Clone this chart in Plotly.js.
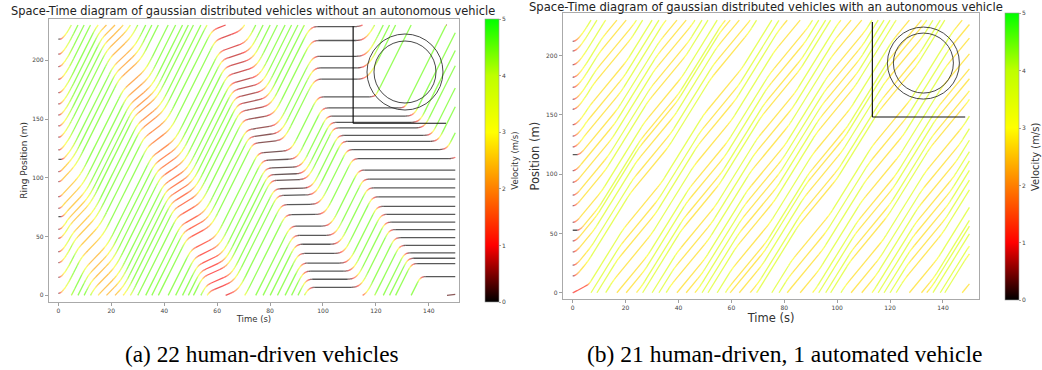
<!DOCTYPE html>
<html><head><meta charset="utf-8">
<script src="https://cdn.plot.ly/plotly-3.0.1.min.js"></script>
<style>html,body{margin:0;padding:0;background:#fff}#chart{width:1042px;height:370px}</style>
</head><body><div id="chart"></div>
<script>
// ---------------- values ----------------
const ringLength = 230;          // m
const timeEnd = 150;             // s
const xTicks = [0, 20, 40, 60, 80, 100, 120, 140];
const yTicks = [0, 50, 100, 150, 200];
const speedTicks = [0, 1, 2, 3, 4, 5];

// colour map (velocity m/s -> colour)
const cmapSpeed = [0, 1, 3, 4, 5];
const cmapRGB = [[0,0,0],[255,0,0],[255,255,0],[190,255,0],[0,255,0]];

// shape of a speed transition (fraction of the transition -> fraction of the dip)
const rampFraction = [0, 0.2, 0.4, 0.6, 0.8, 1];
const rampDepth    = [0, 0.1, 0.35, 0.65, 0.9, 1];

// ---- panel (a): 22 human-driven vehicles ----
const startPosA = [1.7, 15.3, 27.8, 37.1, 48.5, 56.1, 66.9, 74.0, 83.9, 96.7, 105.2, 115.7, 123.7, 134.5, 144.1, 153.4, 162.8, 172.4, 183.8, 194.6, 205.1, 217.9];
const launchDelayA = [0, 0, 0, 0, 0, 0, 0.8, 0, 0, 0, 0, 1.0, 0, 0, 0, 0, 0, 0, 0, 0, 0, 0.4];
const launchTimeA  = [0, 0.5, 1.5, 3, 4.5, 6];
const launchSpeedA = [0, 0.9, 2.4, 3.5, 4.2, 4.5];
const cruiseSpeedA = 4.5;
// slow bands: ring position (m), time the slow part starts / ends there (s), slowest speed (m/s)
const waveA0Pos = [0, 230],              waveA0Enter = [17, -23],           waveA0Leave = [22, -18],           waveA0Min = [2.3, 2.6];
const waveA1Pos = [0, 230],              waveA1Enter = [60, 17],            waveA1Leave = [65, 22],            waveA1Min = [0.9, 2.3];
const waveA2Pos = [0, 57.5, 115, 134, 230];
const waveA2Enter = [98, 90.5, 79.5, 74.6, 60];
const waveA2Leave = [112, 99.5, 87, 81, 65];
const waveA2Min   = [0, 0, 0.1, 0.3, 0.9];
const waveA3Pos = [0, 16, 57.5, 115, 140, 160, 172.5, 230];
const waveA3Enter = [146, 139, 127, 114, 107, 102, 100, 98];
const waveA3Leave = [180, 172, 165, 148, 136, 128, 113, 112];
const waveA3Min   = [0.3, 0, 0, 0, 0, 0, 0, 0];
const brakeA = 6, recoverA = 9;

// ---- panel (b): 21 human-driven, 1 automated vehicle ----
const startPosB = [0, 14.2, 23.2, 34.4, 43.7, 52.7, 59.4, 73.4, 82.4, 93.2, 103, 116.5, 123, 132.2, 141.8, 154.8, 163.2, 173.3, 181.8, 192.4, 204, 212.1];
const launchDelayB = [0, 0, 0, 0, 0, 1.5, 0, 0, 0, 0, 0, 1.5, 0, 0, 0, 0, 0, 0, 0, 0, 0, 0];
const launchTimeB  = [0, 0.5, 1.5, 3, 4.5, 6];
const launchSpeedB = [0, 0.7, 1.8, 2.8, 3.3, 3.6];
const avLaunchTime  = [0, 0.3, 5.5, 7];
const avLaunchSpeed = [0.5, 1.1, 1.3, 3.6];
const cruiseSpeedB = 4.6;
// mild speed bands drifting forward: time they pass 0 m, time taken to reach 230 m
const waveBStart = [-50, -28, -6, 16, 38, 60, 82, 104, 126, 148];
const waveBTravel = 20;
const waveBHold = 8, waveBMin = 2.7;
const brakeB = 5, recoverB = 5;

// ---------------- helpers ----------------
function lerpTable(xs, ys, x) {
  if (x <= xs[0]) return ys[0];
  for (let i = 1; i < xs.length; i++) {
    if (x <= xs[i]) { const f = (x - xs[i-1]) / (xs[i] - xs[i-1]); return ys[i-1] + f * (ys[i] - ys[i-1]); }
  }
  return ys[ys.length - 1];
}
function speedColor(v, alpha) {
  const c = [0,1,2].map(j => Math.round(lerpTable(cmapSpeed, cmapRGB.map(r => r[j]), v)));
  return alpha === undefined ? `rgb(${c[0]},${c[1]},${c[2]})` : `rgba(${c[0]},${c[1]},${c[2]},${alpha})`;
}
// a band: {pos, enter, leave, min}
function bandSpeed(b, cruise, brake, recover, t, y) {
  const te = lerpTable(b.pos, b.enter, y), tl = lerpTable(b.pos, b.leave, y), vmin = lerpTable(b.pos, b.min, y);
  const u = t - te, w = t - tl;
  let f = 0;
  if (u >= -brake && u < 0) f = lerpTable(rampFraction, rampDepth, (u + brake) / brake);
  else if (u >= 0 && w <= 0) f = 1;
  else if (w > 0 && w <= recover) f = 1 - lerpTable(rampFraction, rampDepth, w / recover);
  return cruise - f * (cruise - vmin);
}
function makeField(bands, cruise, brake, recover) {
  return (t, y) => bands.reduce((v, b) => Math.min(v, bandSpeed(b, cruise, brake, recover, t, y)), cruise);
}
function trajectory(field, y0, lt, lv, delay) {
  const speed = (tt, yy) => Math.max(0, Math.min(field(tt, ((yy % ringLength) + ringLength) % ringLength), lerpTable(lt, lv, tt - delay)));
  const dt = 0.05, every = 4;
  let t = 0, u = y0;
  const pts = [[0, u]];
  let n = 0;
  while (t < timeEnd - 1e-9) {
    const v1 = speed(t, u);
    const v2 = speed(t + dt / 2, u + v1 * dt / 2);
    u += v2 * dt; t += dt; n++;
    if (n % every === 0 || t >= timeEnd - 1e-9) pts.push([t, u]);
  }
  return pts;
}
function buildTraces(trajs, xa, ya, alpha, width) {
  const bins = {};
  trajs.forEach(pts => {
    let prev = null;
    const add = (bin, x0, y0, x1, y1) => {
      if (!bins[bin]) bins[bin] = { x: [], y: [] };
      const B = bins[bin];
      if (prev && prev.bin === bin && prev.x === x0 && prev.y === y0) { B.x.push(x1); B.y.push(y1); }
      else { if (B.x.length) { B.x.push(null); B.y.push(null); } B.x.push(x0, x1); B.y.push(y0, y1); }
      prev = { bin, x: x1, y: y1 };
    };
    for (let i = 1; i < pts.length; i++) {
      const [ta, ua] = pts[i-1], [tb, ub] = pts[i];
      const v = (ub - ua) / (tb - ta);
      const bin = Math.max(0, Math.min(50, Math.round(v * 10)));
      const la = Math.floor(ua / ringLength), lb = Math.floor(ub / ringLength);
      if (la === lb) add(bin, ta, ua - la * ringLength, tb, ub - lb * ringLength);
      else {
        const tc = ta + (lb * ringLength - ua) / (ub - ua) * (tb - ta);
        add(bin, ta, ua - la * ringLength, tc, ringLength);
        prev = null;
        add(bin, tc, 0, tb, ub - lb * ringLength);
      }
    }
  });
  return Object.keys(bins).map(k => ({
    type: 'scatter', mode: 'lines', x: bins[k].x, y: bins[k].y, xaxis: xa, yaxis: ya,
    line: { color: speedColor(k / 10, alpha), width: width }, hoverinfo: 'skip', showlegend: false
  }));
}

// ---------------- trajectories ----------------
const bandsA = [
  { pos: waveA0Pos, enter: waveA0Enter, leave: waveA0Leave, min: waveA0Min },
  { pos: waveA1Pos, enter: waveA1Enter, leave: waveA1Leave, min: waveA1Min },
  { pos: waveA2Pos, enter: waveA2Enter, leave: waveA2Leave, min: waveA2Min },
  { pos: waveA3Pos, enter: waveA3Enter, leave: waveA3Leave, min: waveA3Min }
];
const bandsB = waveBStart.map(s => ({ pos: [0, ringLength], enter: [s, s + waveBTravel], leave: [s + waveBHold, s + waveBTravel + waveBHold], min: [waveBMin, waveBMin] }));
const fieldA = makeField(bandsA, cruiseSpeedA, brakeA, recoverA);
const fieldB = makeField(bandsB, cruiseSpeedB, brakeB, recoverB);
const trajA = startPosA.map((p, i) => trajectory(fieldA, p, launchTimeA, launchSpeedA, launchDelayA[i]));
const trajB = startPosB.map((p, i) => i === 0 ? trajectory(fieldB, p, avLaunchTime, avLaunchSpeed, 0)
                                              : trajectory(fieldB, p, launchTimeB, launchSpeedB, launchDelayB[i]));

const W = 1042, H = 370;
const px = v => v / W, py = v => 1 - v / H;
const font = 'DejaVu Sans, Verdana, sans-serif';
const cscale = cmapSpeed.map((s, i) => [s / 5, speedColor(s)]);

function colorbarTrace(xa, ya, cb) {
  return { type: 'scatter', mode: 'markers', x: [-100], y: [-100], xaxis: xa, yaxis: ya, hoverinfo: 'skip', showlegend: false,
    marker: { size: 1, opacity: 0, color: [0], cmin: 0, cmax: 5, colorscale: cscale, showscale: true, colorbar: cb } };
}
const cbCommon = { xanchor: 'left', yanchor: 'top', lenmode: 'fraction', thicknessmode: 'pixels', xpad: 0, ypad: 0,
  outlinewidth: 0.6, outlinecolor: '#999', tickvals: speedTicks, ticks: 'outside', ticklen: 2, tickwidth: 0.6, tickcolor: '#666',
  tickfont: { family: font, size: 6, color: '#444' } };

const traces = [
  ...buildTraces(trajA, 'x', 'y', 0.65, 1.3),
  ...buildTraces(trajB, 'x2', 'y2', 0.65, 1.3),
  colorbarTrace('x', 'y', Object.assign({}, cbCommon, { x: px(486.7), y: py(19), len: 282.7 / H, thickness: 14.3,
    title: { text: 'Velocity (m/s)', side: 'right', font: { family: font, size: 8.5, color: '#333' } } })),
  colorbarTrace('x2', 'y2', Object.assign({}, cbCommon, { x: px(1008.3), y: py(13.3), len: 286.7 / H, thickness: 14.4,
    title: { text: 'Velocity (m/s)', side: 'right', font: { family: font, size: 10, color: '#333' } } }))
];

const axisCommon = { showgrid: false, zeroline: false, showline: true, mirror: true, linecolor: '#aaa', linewidth: 1,
  ticks: 'outside', ticklen: 3, tickwidth: 0.7, tickcolor: '#777', tickfont: { family: font, size: 6, color: '#444' }, automargin: false };

// inset (ring sketch) geometry, in data units of each panel
const insetA = { t: 111.4, yTop: 229, yBottom: 146.4, tRight: 146.5, ct: 131, cy: 190, r: [38, 31] };
const insetB = { t: 113.3, yTop: 228.4, yBottom: 148.3, tRight: 148.4, ct: 132.6, cy: 193.8, r: [36, 30] };
function insetShapes(I, xr, yr) {
  const s = [
    { type: 'line', xref: xr, yref: yr, x0: I.t, x1: I.t, y0: I.yBottom, y1: I.yTop, line: { color: '#111', width: 1.2 } },
    { type: 'line', xref: xr, yref: yr, x0: I.t, x1: I.tRight, y0: I.yBottom, y1: I.yBottom, line: { color: '#111', width: 1.2 } }
  ];
  I.r.forEach(r => s.push({ type: 'circle', xref: xr, yref: yr, xsizemode: 'pixel', ysizemode: 'pixel', xanchor: I.ct, yanchor: I.cy,
    x0: -r, x1: r, y0: -r, y1: r, line: { color: '#333', width: 0.9 } }));
  return s;
}

const layout = {
  width: W, height: H, margin: { l: 0, r: 0, t: 0, b: 0 }, paper_bgcolor: '#fff', plot_bgcolor: '#fff', showlegend: false,
  xaxis: Object.assign({}, axisCommon, { domain: [px(49), px(460.3)], range: [-3.6, 151.4], tickvals: xTicks, anchor: 'y',
    title: { text: 'Time (s)', font: { family: font, size: 8.5, color: '#333' }, standoff: 2 } }),
  yaxis: Object.assign({}, axisCommon, { domain: [py(301.7), py(19)], range: [-5.4, 235.1], tickvals: yTicks, anchor: 'x',
    title: { text: 'Ring Position (m)', font: { family: font, size: 9, color: '#333' }, standoff: 3 } }),
  xaxis2: Object.assign({}, axisCommon, { domain: [px(564.3), px(982.3)], range: [-3.8, 153.8], tickvals: xTicks, anchor: 'y2',
    title: { text: 'Time (s)', font: { family: font, size: 11.5, color: '#333' }, standoff: 3 } }),
  yaxis2: Object.assign({}, axisCommon, { domain: [py(299), py(13.3)], range: [-5.3, 235.8], tickvals: yTicks, anchor: 'x2',
    title: { text: 'Position (m)', font: { family: font, size: 11.5, color: '#333' }, standoff: 3 } }),
  shapes: [...insetShapes(insetA, 'x', 'y'), ...insetShapes(insetB, 'x2', 'y2')],
  annotations: [
    { text: 'Space-Time diagram of gaussian distributed vehicles without an autonomous vehicle', xref: 'paper', yref: 'paper',
      x: px(254), y: py(10.5), xanchor: 'center', yanchor: 'middle', showarrow: false, font: { family: font, size: 11.4, color: '#222' } },
    { text: 'Space-Time diagram of gaussian distributed vehicles with an autonomous vehicle', xref: 'paper', yref: 'paper',
      x: px(768), y: py(7), xanchor: 'center', yanchor: 'middle', showarrow: false, font: { family: font, size: 11.6, color: '#222' } },
    { text: '(a) 22 human-driven vehicles', xref: 'paper', yref: 'paper', x: px(262.5), y: py(354), xanchor: 'center', yanchor: 'middle',
      showarrow: false, font: { family: 'Liberation Serif, Times New Roman, serif', size: 23.3, color: '#000' } },
    { text: '(b) 21 human-driven, 1 automated vehicle', xref: 'paper', yref: 'paper', x: px(787), y: py(354), xanchor: 'center', yanchor: 'middle',
      showarrow: false, font: { family: 'Liberation Serif, Times New Roman, serif', size: 23.5, color: '#000' } }
  ]
};

Plotly.newPlot('chart', traces, layout, { staticPlot: true, displayModeBar: false });
</script></body></html>
